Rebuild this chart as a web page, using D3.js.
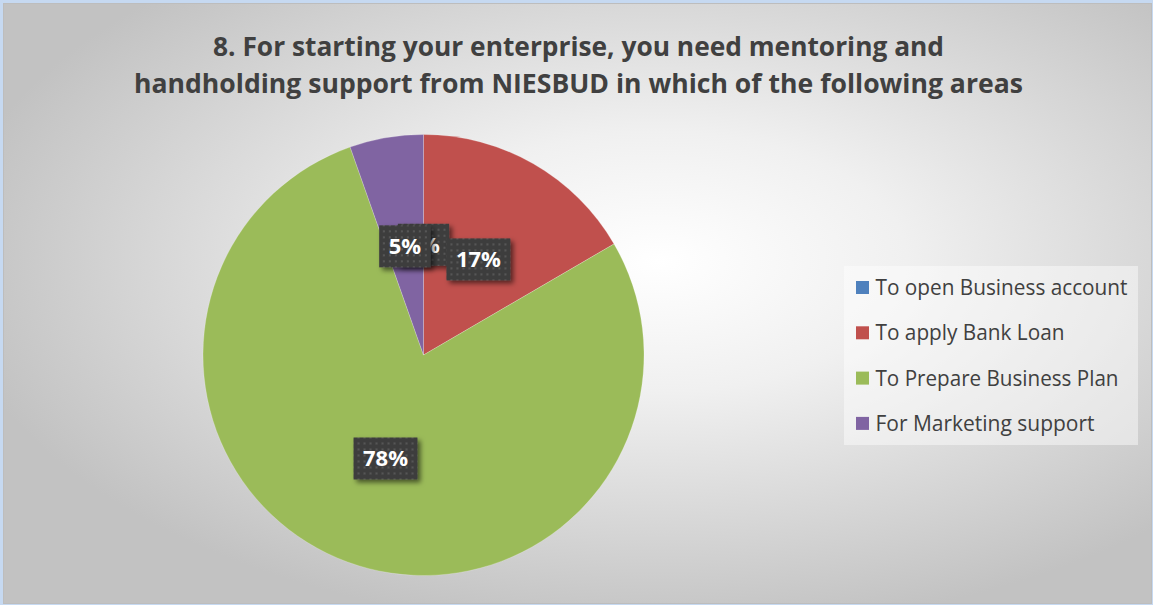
<!DOCTYPE html>
<html><head><meta charset="utf-8">
<script src="https://cdn.jsdelivr.net/npm/d3@7"></script>
<style>html,body{margin:0;padding:0;background:#c6d9f1;}svg{display:block;}</style>
</head><body>
<svg id="chart" width="1153" height="605"></svg>
<script>
const titleLines = ["8. For starting your enterprise, you need mentoring and",
                    "handholding support from NIESBUD in which of the following areas"];
const categories = ["To open Business account", "To apply Bank Loan", "To Prepare Business Plan", "For Marketing support"];
const values = [0, 16.6, 78.0, 5.4];
const labels = ["0%", "17%", "78%", "5%"];
const colors = ["#4f81bd", "#c0504d", "#9bbb59", "#8064a2"];

const svg = d3.select("#chart");
const W = 1153, H = 605;
const defs = svg.append("defs");

const bg = defs.append("radialGradient").attr("id", "bg")
  .attr("cx", 0.57).attr("cy", 0.43).attr("r", 0.62);
bg.append("stop").attr("offset", 0).attr("stop-color", "#ffffff");
bg.append("stop").attr("offset", 0.35).attr("stop-color", "#f0f0f0");
bg.append("stop").attr("offset", 1).attr("stop-color", "#c2c2c2");

const pat = defs.append("pattern").attr("id", "dots").attr("patternUnits", "userSpaceOnUse")
  .attr("width", 6).attr("height", 6);
pat.append("rect").attr("width", 6).attr("height", 6).attr("fill", "#3e3e3e");
pat.append("rect").attr("x", 2).attr("y", 2).attr("width", 2).attr("height", 2).attr("fill", "#575757");

const sh = defs.append("filter").attr("id", "shadow").attr("x", "-30%").attr("y", "-30%").attr("width", "170%").attr("height", "170%");
sh.append("feDropShadow").attr("dx", 3).attr("dy", 3).attr("stdDeviation", 2.5)
  .attr("flood-color", "#000").attr("flood-opacity", 0.55);

svg.append("rect").attr("x", 3.5).attr("y", 3.5).attr("width", W - 5).attr("height", H - 5)
  .attr("fill", "url(#bg)").attr("stroke", "#bdbdbd").attr("stroke-width", 1);

// Title
const title = svg.append("g").attr("font-family", "'Open Sans', sans-serif").attr("font-weight", "bold")
  .attr("font-size", 27).attr("fill", "#404040").attr("text-anchor", "middle");
const titleLens = [731, 889];
titleLines.forEach((t, i) => {
  title.append("text").attr("x", 578.5).attr("y", 56 + i * 37).text(t)
    .attr("textLength", titleLens[i]).attr("lengthAdjust", "spacingAndGlyphs");
});

// Pie
const cx = 423.5, cy = 355, r = 220.5;
const pie = d3.pie().sort(null).value(d => d).startAngle(0).endAngle(2 * Math.PI);
const arcs = pie(values);
const arc = d3.arc().innerRadius(0).outerRadius(r);
const g = svg.append("g").attr("transform", `translate(${cx},${cy})`);
g.selectAll("path").data(arcs).join("path")
  .attr("d", arc).attr("fill", (d, i) => colors[i])
  .attr("stroke", "rgba(255,255,255,0.35)").attr("stroke-width", 0.6);

// Data labels
const lg = g.append("g").attr("font-family", "'Open Sans', sans-serif").attr("font-weight", "bold")
  .attr("font-size", 22);
arcs.forEach((d, i) => {
  const [x, y] = arc.centroid(d);
  const grp = lg.append("g").attr("transform", `translate(${x},${y})`);
  const rectSel = grp.append("rect").attr("fill", "url(#dots)").attr("filter", "url(#shadow)");
  const txt = grp.append("text").attr("text-anchor", "middle").attr("dy", "0.36em")
    .attr("fill", "#ffffff").text(labels[i]);
  const w = txt.node().getComputedTextLength() + 19;
  const h = 42;
  rectSel.attr("x", -w / 2).attr("y", -h / 2).attr("width", w).attr("height", h);
});

// Legend
const leg = svg.append("g");
leg.append("rect").attr("x", 844).attr("y", 266).attr("width", 294).attr("height", 179)
  .attr("fill", "#ffffff").attr("fill-opacity", 0.45);
const legLens = [252, 189, 243, 219];
categories.forEach((c, i) => {
  const yc = 287.5 + i * 45.3;
  leg.append("rect").attr("x", 856).attr("y", yc - 6.5).attr("width", 13).attr("height", 13).attr("fill", colors[i]);
  leg.append("text").attr("x", 875.5).attr("y", yc + 7.5)
    .attr("font-family", "'Open Sans', sans-serif").attr("font-size", 21).attr("fill", "#404040")
    .attr("textLength", legLens[i]).attr("lengthAdjust", "spacingAndGlyphs").text(c);
});
</script>
</body></html>
